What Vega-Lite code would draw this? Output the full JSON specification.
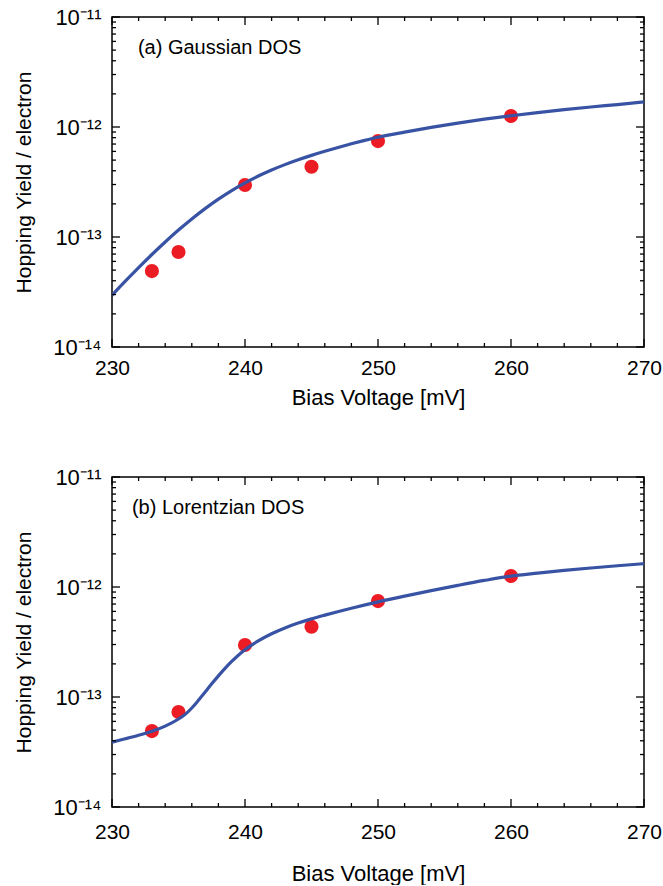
{
  "$schema": "https://vega.github.io/schema/vega-lite/v6.json",
  "padding": {"left": 13, "top": 5, "right": 12, "bottom": 0},
  "config": {
    "font": "Liberation Sans",
    "view": {"stroke": "black", "strokeWidth": 1.5},
    "axis": {"domain": false, "grid": false, "ticks": false, "tickSize": 0, "labelColor": "black", "titleColor": "black", "labelFont": "Liberation Sans", "titleFont": "Liberation Sans", "titleFontWeight": "normal"}
  },
  "datasets": {
    "points": [
      {"v": 233, "y": 4.9e-14},
      {"v": 235, "y": 7.3e-14},
      {"v": 240, "y": 2.97e-13},
      {"v": 245, "y": 4.35e-13},
      {"v": 250, "y": 7.45e-13},
      {"v": 260, "y": 1.26e-12}
    ],
    "xmaj": [{"t": 230},{"t": 240},{"t": 250},{"t": 260},{"t": 270}],
    "xmin": [{"t": 232},{"t": 234},{"t": 236},{"t": 238},{"t": 242},{"t": 244},{"t": 246},{"t": 248},{"t": 252},{"t": 254},{"t": 256},{"t": 258},{"t": 262},{"t": 264},{"t": 266},{"t": 268}],
    "ymaj": [{"t": 1e-14},{"t": 1e-13},{"t": 1e-12},{"t": 1e-11}],
    "ymin": [{"t": 2e-14},{"t": 3e-14},{"t": 4e-14},{"t": 5e-14},{"t": 6e-14},{"t": 7e-14},{"t": 8e-14},{"t": 9e-14},{"t": 2e-13},{"t": 3e-13},{"t": 4e-13},{"t": 5e-13},{"t": 6e-13},{"t": 7e-13},{"t": 8e-13},{"t": 9e-13},{"t": 2e-12},{"t": 3e-12},{"t": 4e-12},{"t": 5e-12},{"t": 6e-12},{"t": 7e-12},{"t": 8e-12},{"t": 9e-12}],
    "gauss": [
      {"v": 230, "y": 2.951e-14},
      {"v": 231, "y": 3.963e-14},
      {"v": 232, "y": 5.272e-14},
      {"v": 233, "y": 6.934e-14},
      {"v": 234, "y": 9.016e-14},
      {"v": 235, "y": 1.156e-13},
      {"v": 236, "y": 1.459e-13},
      {"v": 237, "y": 1.811e-13},
      {"v": 238, "y": 2.208e-13},
      {"v": 239, "y": 2.642e-13},
      {"v": 240, "y": 3.105e-13},
      {"v": 241, "y": 3.581e-13},
      {"v": 242, "y": 4.064e-13},
      {"v": 243, "y": 4.55e-13},
      {"v": 244, "y": 5.035e-13},
      {"v": 245, "y": 5.521e-13},
      {"v": 246, "y": 6.012e-13},
      {"v": 247, "y": 6.516e-13},
      {"v": 248, "y": 7.031e-13},
      {"v": 249, "y": 7.551e-13},
      {"v": 250, "y": 8.072e-13},
      {"v": 252, "y": 8.995e-13},
      {"v": 254, "y": 9.931e-13},
      {"v": 256, "y": 1.086e-12},
      {"v": 258, "y": 1.178e-12},
      {"v": 260, "y": 1.265e-12},
      {"v": 262, "y": 1.351e-12},
      {"v": 264, "y": 1.436e-12},
      {"v": 266, "y": 1.519e-12},
      {"v": 268, "y": 1.6e-12},
      {"v": 270, "y": 1.69e-12}
    ],
    "lorentz": [
      {"v": 230, "y": 3.89e-14},
      {"v": 231, "y": 4.169e-14},
      {"v": 232, "y": 4.487e-14},
      {"v": 233, "y": 4.875e-14},
      {"v": 234, "y": 5.433e-14},
      {"v": 235, "y": 6.31e-14},
      {"v": 235.5, "y": 6.95e-14},
      {"v": 236, "y": 7.943e-14},
      {"v": 236.5, "y": 9.333e-14},
      {"v": 237, "y": 1.109e-13},
      {"v": 237.5, "y": 1.318e-13},
      {"v": 238, "y": 1.556e-13},
      {"v": 238.5, "y": 1.82e-13},
      {"v": 239, "y": 2.104e-13},
      {"v": 239.5, "y": 2.399e-13},
      {"v": 240, "y": 2.692e-13},
      {"v": 241, "y": 3.236e-13},
      {"v": 242, "y": 3.758e-13},
      {"v": 243, "y": 4.246e-13},
      {"v": 244, "y": 4.699e-13},
      {"v": 245, "y": 5.129e-13},
      {"v": 246, "y": 5.546e-13},
      {"v": 248, "y": 6.412e-13},
      {"v": 250, "y": 7.328e-13},
      {"v": 252, "y": 8.27e-13},
      {"v": 254, "y": 9.268e-13},
      {"v": 256, "y": 1.034e-12},
      {"v": 258, "y": 1.147e-12},
      {"v": 260, "y": 1.257e-12},
      {"v": 262, "y": 1.337e-12},
      {"v": 264, "y": 1.415e-12},
      {"v": 266, "y": 1.489e-12},
      {"v": 268, "y": 1.561e-12},
      {"v": 270, "y": 1.629e-12}
    ]
  },
  "spacing": 56,
  "vconcat": [
    {
      "width": 532,
      "height": 330,
      "layer": [
        {
          "data": {"name": "points"},
          "mark": {"type": "circle", "color": "#ec1c24", "size": 200, "opacity": 1},
          "encoding": {
            "x": {"field": "v", "type": "quantitative", "scale": {"domain": [230, 270], "nice": false, "zero": false},
              "axis": {"values": [230,240,250,260,270], "labelFontSize": 21, "labelPadding": 10, "labelFlush": false, "labelOverlap": false, "title": "Bias Voltage [mV]", "titleFontSize": 22, "titlePadding": 9}},
            "y": {"field": "y", "type": "quantitative", "scale": {"type": "log", "domain": [1e-14, 1e-11], "nice": false},
              "axis": {"values": [1e-14,1e-13,1e-12,1e-11], "labelExpr": "round(log(datum.value)/LN10) == -11 ? '10⁻¹¹' : round(log(datum.value)/LN10) == -12 ? '10⁻¹²' : round(log(datum.value)/LN10) == -13 ? '10⁻¹³' : '10⁻¹⁴'", "labelFontSize": 22, "labelPadding": 11, "labelFlush": false, "labelOverlap": false, "title": "Hopping Yield / electron", "titleFontSize": 21, "titlePadding": 18}}
          }
        },
        {
          "data": {"name": "gauss"},
          "mark": {"type": "line", "color": "#3953a4", "strokeWidth": 3.2, "clip": true, "interpolate": "monotone"},
          "encoding": {"x": {"field": "v", "type": "quantitative"}, "y": {"field": "y", "type": "quantitative"}}
        },
        {"data": {"name": "xmaj"}, "mark": {"type": "rule", "color": "black", "strokeWidth": 1.3}, "encoding": {"x": {"field": "t", "type": "quantitative"}, "y": {"datum": 1e-14, "type": "quantitative"}, "y2": {"datum": 1.183e-14}}},
        {"data": {"name": "xmin"}, "mark": {"type": "rule", "color": "black", "strokeWidth": 1.3}, "encoding": {"x": {"field": "t", "type": "quantitative"}, "y": {"datum": 1e-14, "type": "quantitative"}, "y2": {"datum": 1.087e-14}}},
        {"data": {"name": "xmaj"}, "mark": {"type": "rule", "color": "black", "strokeWidth": 1.3}, "encoding": {"x": {"field": "t", "type": "quantitative"}, "y": {"datum": 1e-11, "type": "quantitative"}, "y2": {"datum": 8.46e-12}}},
        {"data": {"name": "xmin"}, "mark": {"type": "rule", "color": "black", "strokeWidth": 1.3}, "encoding": {"x": {"field": "t", "type": "quantitative"}, "y": {"datum": 1e-11, "type": "quantitative"}, "y2": {"datum": 9.2e-12}}},
        {"data": {"name": "ymaj"}, "mark": {"type": "rule", "color": "black", "strokeWidth": 1.3}, "encoding": {"y": {"field": "t", "type": "quantitative"}, "x": {"datum": 230, "type": "quantitative"}, "x2": {"datum": 230.6}}},
        {"data": {"name": "ymin"}, "mark": {"type": "rule", "color": "black", "strokeWidth": 1.3}, "encoding": {"y": {"field": "t", "type": "quantitative"}, "x": {"datum": 230, "type": "quantitative"}, "x2": {"datum": 230.3}}},
        {"data": {"name": "ymaj"}, "mark": {"type": "rule", "color": "black", "strokeWidth": 1.3}, "encoding": {"y": {"field": "t", "type": "quantitative"}, "x": {"datum": 270, "type": "quantitative"}, "x2": {"datum": 269.4}}},
        {"data": {"name": "ymin"}, "mark": {"type": "rule", "color": "black", "strokeWidth": 1.3}, "encoding": {"y": {"field": "t", "type": "quantitative"}, "x": {"datum": 270, "type": "quantitative"}, "x2": {"datum": 269.7}}},
        {
          "data": {"values": [{}]},
          "mark": {"type": "text", "text": "(a) Gaussian DOS", "align": "left", "baseline": "middle", "fontSize": 20, "font": "Liberation Sans", "color": "black"},
          "encoding": {"x": {"datum": 231.95, "type": "quantitative"}, "y": {"datum": 5.2e-12, "type": "quantitative"}}
        }
      ]
    },
    {
      "width": 532,
      "height": 330,
      "layer": [
        {
          "data": {"name": "points"},
          "mark": {"type": "circle", "color": "#ec1c24", "size": 200, "opacity": 1},
          "encoding": {
            "x": {"field": "v", "type": "quantitative", "scale": {"domain": [230, 270], "nice": false, "zero": false},
              "axis": {"values": [230,240,250,260,270], "labelFontSize": 21, "labelPadding": 14, "labelFlush": false, "labelOverlap": false, "title": "Bias Voltage [mV]", "titleFontSize": 22, "titlePadding": 21}},
            "y": {"field": "y", "type": "quantitative", "scale": {"type": "log", "domain": [1e-14, 1e-11], "nice": false},
              "axis": {"values": [1e-14,1e-13,1e-12,1e-11], "labelExpr": "round(log(datum.value)/LN10) == -11 ? '10⁻¹¹' : round(log(datum.value)/LN10) == -12 ? '10⁻¹²' : round(log(datum.value)/LN10) == -13 ? '10⁻¹³' : '10⁻¹⁴'", "labelFontSize": 22, "labelPadding": 11, "labelFlush": false, "labelOverlap": false, "title": "Hopping Yield / electron", "titleFontSize": 21, "titlePadding": 18}}
          }
        },
        {
          "data": {"name": "lorentz"},
          "mark": {"type": "line", "color": "#3953a4", "strokeWidth": 3.2, "clip": true, "interpolate": "monotone"},
          "encoding": {"x": {"field": "v", "type": "quantitative"}, "y": {"field": "y", "type": "quantitative"}}
        },
        {"data": {"name": "xmaj"}, "mark": {"type": "rule", "color": "black", "strokeWidth": 1.3}, "encoding": {"x": {"field": "t", "type": "quantitative"}, "y": {"datum": 1e-14, "type": "quantitative"}, "y2": {"datum": 1.183e-14}}},
        {"data": {"name": "xmin"}, "mark": {"type": "rule", "color": "black", "strokeWidth": 1.3}, "encoding": {"x": {"field": "t", "type": "quantitative"}, "y": {"datum": 1e-14, "type": "quantitative"}, "y2": {"datum": 1.087e-14}}},
        {"data": {"name": "xmaj"}, "mark": {"type": "rule", "color": "black", "strokeWidth": 1.3}, "encoding": {"x": {"field": "t", "type": "quantitative"}, "y": {"datum": 1e-11, "type": "quantitative"}, "y2": {"datum": 8.46e-12}}},
        {"data": {"name": "xmin"}, "mark": {"type": "rule", "color": "black", "strokeWidth": 1.3}, "encoding": {"x": {"field": "t", "type": "quantitative"}, "y": {"datum": 1e-11, "type": "quantitative"}, "y2": {"datum": 9.2e-12}}},
        {"data": {"name": "ymaj"}, "mark": {"type": "rule", "color": "black", "strokeWidth": 1.3}, "encoding": {"y": {"field": "t", "type": "quantitative"}, "x": {"datum": 230, "type": "quantitative"}, "x2": {"datum": 230.6}}},
        {"data": {"name": "ymin"}, "mark": {"type": "rule", "color": "black", "strokeWidth": 1.3}, "encoding": {"y": {"field": "t", "type": "quantitative"}, "x": {"datum": 230, "type": "quantitative"}, "x2": {"datum": 230.3}}},
        {"data": {"name": "ymaj"}, "mark": {"type": "rule", "color": "black", "strokeWidth": 1.3}, "encoding": {"y": {"field": "t", "type": "quantitative"}, "x": {"datum": 270, "type": "quantitative"}, "x2": {"datum": 269.4}}},
        {"data": {"name": "ymin"}, "mark": {"type": "rule", "color": "black", "strokeWidth": 1.3}, "encoding": {"y": {"field": "t", "type": "quantitative"}, "x": {"datum": 270, "type": "quantitative"}, "x2": {"datum": 269.7}}},
        {
          "data": {"values": [{}]},
          "mark": {"type": "text", "text": "(b) Lorentzian DOS", "align": "left", "baseline": "middle", "fontSize": 20, "font": "Liberation Sans", "color": "black"},
          "encoding": {"x": {"datum": 231.5, "type": "quantitative"}, "y": {"datum": 5.2e-12, "type": "quantitative"}}
        }
      ]
    }
  ]
}
